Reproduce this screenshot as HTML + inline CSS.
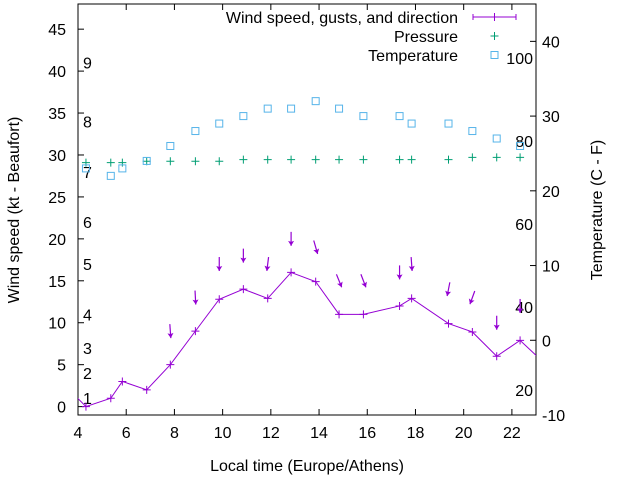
<!DOCTYPE html>
<html><head><meta charset="utf-8"><style>
html,body{margin:0;padding:0;background:#fff;}
svg{display:block;font-family:"Liberation Sans",Arial,sans-serif;}
</style></head><body>
<svg id="chart" width="640" height="480" viewBox="0 0 640 480" xmlns="http://www.w3.org/2000/svg"></svg>
<script>
const hours = [4.33,5.36,5.84,6.85,7.83,8.87,9.86,10.86,11.87,12.84,13.86,14.83,15.84,17.34,17.84,19.37,20.36,21.37,22.34];
const windSpeed = [0,1,3,2,5,9,12.8,14,12.9,16,14.9,11,11,12,12.9,9.9,8.9,6,7.9];
const windEdgeHours = [3.3,23.34];
const windEdgeSpeed = [3,5.2];
const gusts = [9,13,17,18,17,20,19,15,15,16,17,14,13,10,12];
const gustHours = [7.83,8.87,9.86,10.86,11.87,12.84,13.86,14.83,15.84,17.34,17.84,19.37,20.36,21.37,22.34];
const windDir = [356,357,0,0,7,0,344,338,339,0,356,11,20,0,0];
const pressure = [23.77,23.77,23.77,23.96,23.96,23.96,23.96,24.18,24.18,24.18,24.18,24.18,24.18,24.18,24.18,24.18,24.47,24.47,24.47];
const temperature = [23,22,23,24,26,28,29,30,31,31,32,31,30,30,29,29,28,27,26];
const xTicks = [4,6,8,10,12,14,16,18,20,22];
const yTicks = [0,5,10,15,20,25,30,35,40,45];
const y2Ticks = [-10,0,10,20,30,40];
const beaufortKt = [1,4,7,11,17,22,28,34,41];
const beaufortLabels = ["1","2","3","4","5","6","7","8","9"];
const fahrenheit = [20,40,60,80,100];

const L=78,R=536,T=4,B=415,FS=16;
const X=h=>L+(h-4)/(23-4)*(R-L);
const Y=v=>B-(v+1)/(48+1)*(B-T);
const Y2=v=>B-(v+10)/(45+10)*(B-T);
const svg=document.getElementById('chart');
const NS='http://www.w3.org/2000/svg';
function mk(tag,attrs,parent){const e=document.createElementNS(NS,tag);for(const k in attrs)e.setAttribute(k,attrs[k]);(parent||svg).appendChild(e);return e;}
function txt(s,x,y,anchor,parent,extra){const e=mk('text',Object.assign({x:x,y:y,'text-anchor':anchor,'font-size':FS,fill:'#000'},extra||{}),parent);e.textContent=s;return e;}

const defs=mk('defs',{});
const cp=mk('clipPath',{id:'clip'},defs);
mk('rect',{x:L,y:T,width:R-L,height:B-T},cp);

const axes=mk('g',{});


xTicks.forEach(t=>{const x=X(t);
  mk('line',{x1:x,y1:B,x2:x,y2:B-6,stroke:'#000'},axes);
  mk('line',{x1:x,y1:T,x2:x,y2:T+6,stroke:'#000'},axes);
  const l=txt(String(t),x,B+23,'middle',axes);
  
  
});
yTicks.forEach(t=>{const y=Y(t);
  mk('line',{x1:L,y1:y,x2:L+6,y2:y,stroke:'#000'},axes);
  const l=txt(String(t),L-12,y+6,'end',axes);
  
  
});
y2Ticks.forEach(t=>{const y=Y2(t);
  mk('line',{x1:R,y1:y,x2:R-6,y2:y,stroke:'#000'},axes);
  const l=txt(String(t),R+6,y+6,'start',axes);
  
  
});
beaufortKt.forEach((k,i)=>{
  const l=txt(beaufortLabels[i],83,Y(k)+6,'start',axes);
  
  
});
fahrenheit.forEach(f=>{
  const c=(f-32)*5/9;
  const l=txt(String(f),533,Y2(c)+6,'end',axes);
  
  
});
const frame=mk('rect',{x:L,y:T,width:R-L,height:B-T,fill:'none',stroke:'#000'},axes);



const xt=txt('Local time (Europe/Athens)',(L+R)/2,471,'middle');


const yt=txt('Wind speed (kt - Beaufort)',0,0,'middle',svg,{transform:'translate(19,210) rotate(-90)'});


const y2t=txt('Temperature (C - F)',0,0,'middle',svg,{transform:'translate(602,210) rotate(-90)'});



const plot=mk('g',{'clip-path':'url(#clip)'});



const wx=[windEdgeHours[0]].concat(hours,[windEdgeHours[1]]);
const wy=[windEdgeSpeed[0]].concat(windSpeed,[windEdgeSpeed[1]]);
const wl=mk('polyline',{points:wx.map((h,i)=>X(h)+','+Y(wy[i])).join(' '),fill:'none',stroke:'#9400d3','stroke-width':1},plot);


hours.forEach((h,i)=>{const x=X(h),y=Y(windSpeed[i]);
  const g=mk('path',{d:`M${x-4},${y}H${x+4}M${x},${y-4}V${y+4}`,stroke:'#9400d3','stroke-width':1},plot);
  
  
});
gustHours.forEach((h,i)=>{
  const cx=X(h),cy=Y(gusts[i]),d=windDir[i]*Math.PI/180,len=14;
  const vx=-Math.sin(d),vy=Math.cos(d);
  const tx=cx-vx*len/2,ty=cy-vy*len/2,hx=cx+vx*len/2,hy=cy+vy*len/2;
  const px=-vy,py=vx;
  const g=mk('g',{},plot);
  
  
  mk('line',{x1:tx,y1:ty,x2:hx,y2:hy,stroke:'#9400d3','stroke-width':1.2},g);
  mk('polygon',{points:`${hx},${hy} ${hx-vx*5+px*3},${hy-vy*5+py*3} ${hx-vx*4},${hy-vy*4} ${hx-vx*5-px*3},${hy-vy*5-py*3}`,fill:'#9400d3'},g);
});
hours.forEach((h,i)=>{const x=X(h),y=Y2(pressure[i]);
  const g=mk('path',{d:`M${x-4},${y}H${x+4}M${x},${y-4}V${y+4}`,stroke:'#009e73','stroke-width':1},plot);
  
  
});
hours.forEach((h,i)=>{const x=X(h),y=Y2(temperature[i]);
  const g=mk('rect',{x:x-3.5,y:y-3.5,width:7,height:7,fill:'none',stroke:'#56b4e9','stroke-width':1},plot);
  
  
});
const lg=mk('g',{});


const e1=mk('g',{},lg);
txt('Wind speed, gusts, and direction',458,23,'end',e1);
mk('path',{d:'M473,17H516M473,14V20M516,14V20M494.5,13V21',stroke:'#9400d3','stroke-width':1,fill:'none'},e1);
const e2=mk('g',{},lg);
txt('Pressure',458,42,'end',e2);
mk('path',{d:'M490.5,36H498.5M494.5,32V40',stroke:'#009e73','stroke-width':1},e2);
const e3=mk('g',{},lg);
txt('Temperature',458,61,'end',e3);
mk('rect',{x:491,y:51.5,width:7,height:7,fill:'none',stroke:'#56b4e9'},e3);
</script>
</body></html>
